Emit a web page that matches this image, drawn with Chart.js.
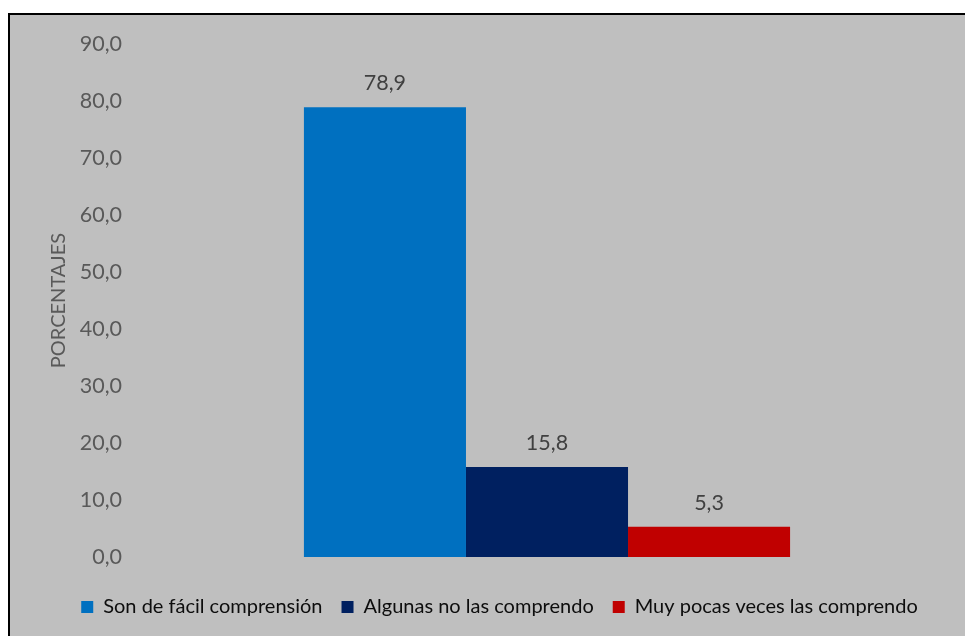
<!DOCTYPE html>
<html>
<head>
<meta charset="utf-8">
<script src="https://cdn.jsdelivr.net/npm/chart.js@4"></script>
<style>
  html, body { margin: 0; padding: 0; background: #fff; overflow: hidden; }
  #frame {
    position: absolute; left: 8px; top: 13px;
    width: 1000px; height: 700px;
    background: #BFBFBF; border: 2px solid #000;
  }
  #chart { position: absolute; left: 9px; top: 14px; }
</style>
</head>
<body>
<div id="frame"></div>
<canvas id="chart" width="981" height="640"></canvas>
<script>
const categories = [''];
const seriesNames = ['Son de fácil comprensión', 'Algunas no las comprendo', 'Muy pocas veces las comprendo'];
const seriesValues = [[78.9], [15.8], [5.3]];
const seriesColors = ['#0070C0', '#002060', '#C00000'];
const yTicks = [0, 10, 20, 30, 40, 50, 60, 70, 80, 90];

const fmt = v => v.toFixed(1).replace('.', ',');
const FONT = 'Lato, Carlito, Calibri, sans-serif';

// little plugin for the numbers above the bars
const barLabels = {
  id: 'barLabels',
  afterDatasetsDraw(chart) {
    const ctx = chart.ctx;
    ctx.save();
    ctx.font = '21.5px ' + FONT;
    ctx.fillStyle = '#404040';
    ctx.textAlign = 'center';
    ctx.textBaseline = 'middle';
    chart.data.datasets.forEach((ds, i) => {
      chart.getDatasetMeta(i).data.forEach((bar, j) => {
        ctx.fillText(fmt(ds.data[j]), bar.x, bar.y - 24);
      });
    });
    ctx.restore();
  }
};

const ctx = document.getElementById('chart');

new Chart(ctx, {
  type: 'bar',
  data: {
    labels: categories,
    datasets: seriesNames.map((name, i) => ({
      label: name,
      data: seriesValues[i],
      backgroundColor: seriesColors[i],
      borderWidth: 0
    }))
  },
  options: {
    responsive: false,
    animation: false,
    categoryPercentage: 0.59,
    barPercentage: 1,
    layout: { padding: { top: 30, bottom: 27, left: 0, right: 0 } },
    plugins: {
      legend: {
        position: 'bottom',
        labels: {
          boxWidth: 12,
          boxHeight: 12,
          padding: 19,
          color: '#0d0d0d',
          font: { family: FONT, size: 20 }
        }
      },
      tooltip: { enabled: false },
      barLabels: {}
    },
    scales: {
      x: {
        grid: { display: false },
        border: { display: false },
        ticks: { display: false },
        afterFit: s => { s.height = 21; }
      },
      y: {
        min: 0,
        max: 90,
        afterBuildTicks: s => { s.ticks = yTicks.map(v => ({ value: v })); },
        afterFit: s => { s.width = 126; },
        grid: { display: false },
        border: { display: false },
        ticks: {
          padding: 5,
          color: '#595959',
          font: { family: FONT, size: 21.5 },
          callback: v => fmt(v)
        },
        title: {
          display: true,
          text: 'PORCENTAJES',
          color: '#595959',
          font: { family: FONT, size: 20 },
          padding: { top: 38, bottom: 0 }
        }
      },
      y2: {
        position: 'right',
        display: true,
        grid: { display: false },
        border: { display: false },
        ticks: { display: false },
        afterFit: s => { s.width = 31; }
      }
    }
  },
  plugins: [barLabels]
});
</script>
</body>
</html>
